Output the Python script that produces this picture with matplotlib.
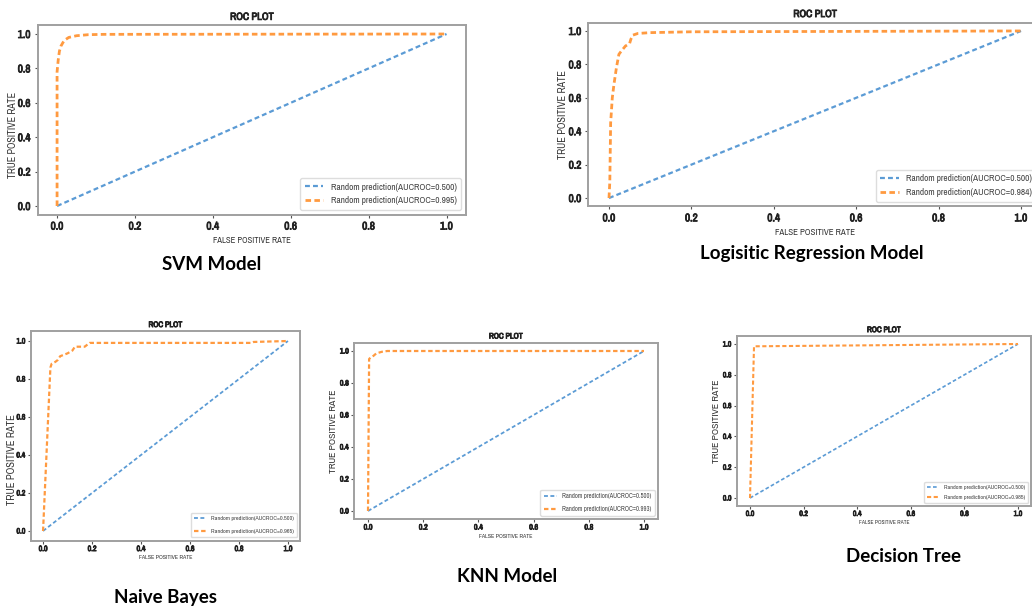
import numpy as np
import matplotlib
matplotlib.use("Agg")
import matplotlib.pyplot as plt
from matplotlib import font_manager
import matplotlib.patheffects as pe

# ROC curves (fpr, tpr)
svm_fpr = [0.0, 0.0, 0.003, 0.006, 0.01, 0.015, 0.02, 0.03, 0.05, 0.08, 0.12, 1.0]
svm_tpr = [0.0, 0.78, 0.85, 0.90, 0.93, 0.95, 0.965, 0.98, 0.99, 0.996, 0.998, 1.0]
lr_fpr = [0.0, 0.002, 0.004, 0.008, 0.012, 0.018, 0.024, 0.03, 0.04, 0.05, 0.053, 0.058, 0.07, 0.1, 0.2, 1.0]
lr_tpr = [0.0, 0.1, 0.45, 0.6, 0.68, 0.78, 0.86, 0.88, 0.91, 0.925, 0.95, 0.975, 0.985, 0.99, 0.995, 1.0]
nb_fpr = [0.0, 0.03, 0.035, 0.05, 0.06, 0.07, 0.09, 0.1, 0.12, 0.13, 0.17, 0.18, 0.19, 0.85, 0.86, 1.0]
nb_tpr = [0.0, 0.86, 0.88, 0.89, 0.90, 0.92, 0.93, 0.935, 0.95, 0.97, 0.97, 0.98, 0.99, 0.99, 0.995, 1.0]
knn_fpr = [0.0, 0.004, 0.01, 0.02, 0.03, 0.05, 0.07, 1.0]
knn_tpr = [0.0, 0.95, 0.96, 0.97, 0.985, 0.995, 1.0, 1.0]
dt_fpr = [0.0, 0.015, 1.0]
dt_tpr = [0.0, 0.985, 1.0]

rand_x = [0.0, 1.0]
rand_y = [0.0, 1.0]

models = ["SVM Model", "Logisitic Regression Model", "Naive Bayes", "KNN Model", "Decision Tree"]
aucs = ["0.995", "0.984", "0.965", "0.993", "0.985"]
curves = [(svm_fpr, svm_tpr), (lr_fpr, lr_tpr), (nb_fpr, nb_tpr),
          (knn_fpr, knn_tpr), (dt_fpr, dt_tpr)]

names = sorted({f.name for f in font_manager.fontManager.ttflist})
narrow_list = [n for n in names if "Narrow" in n or "Condensed" in n]
narrow = narrow_list[0] if narrow_list else "DejaVu Sans"
capfont = "Lato" if "Lato" in names else "DejaVu Sans"
cond = dict(family=narrow, stretch="condensed")
thick = [pe.withStroke(linewidth=0.6, foreground="#222222")]

W, H = 1032, 609
fig = plt.figure(figsize=(W / 100, H / 100), dpi=100)

# axes boxes in pixels: left, top, right, bottom ; caption centre
boxes = [(37.6, 25.4, 466, 214.6, (212, 265)),
         (588.4, 22.6, 1041.6, 206.4, (812, 253)),
         (30.8, 331.5, 300.2, 540.5, (166, 597)),
         (354.2, 343, 657.8, 519, (507, 577)),
         (736.6, 336.3, 1031.4, 505.7, (903, 557))]
# tick, title, xlabel, ylabel, ylabel y pos, legend, labelspacing, line scale
styles = [(8.0, 7.5, 6.2, 7.2, 0.42, 6.7, 0.5, 1.0),
          (8.0, 7.5, 6.4, 7.4, 0.5, 6.7, 0.5, 1.0),
          (5.6, 5.8, 4.3, 7.6, 0.385, 4.4, 1.3, 0.8),
          (5.6, 5.8, 4.3, 7.0, 0.5, 4.7, 1.1, 0.8),
          (5.4, 5.8, 4.1, 7.0, 0.5, 4.3, 0.8, 0.75)]

for i, (l, t, r, b, cap) in enumerate(boxes):
    tks, tts, xls, yls, yly, lgs, lsp, s = styles[i]
    ax = fig.add_axes([l / W, 1 - b / H, (r - l) / W, (b - t) / H])
    ax.plot(rand_x, rand_y, linestyle="--", color="#5b9bd5", lw=1.6 * s,
            dashes=(2.2, 1.4), label="Random prediction(AUCROC=0.500)")
    ax.plot(curves[i][0], curves[i][1], linestyle="--", color="#ff9a40", lw=2.0 * s,
            dashes=(2.0, 1.2), label="Random prediction(AUCROC=%s)" % aucs[i])
    ax.set_xlim(-0.05, 1.05)
    ax.set_ylim(-0.05, 1.05)
    ax.set_xticks([0, 0.2, 0.4, 0.6, 0.8, 1.0])
    ax.set_yticks([0, 0.2, 0.4, 0.6, 0.8, 1.0])
    ax.tick_params(labelsize=tks, length=2.5 * s, width=0.8, color="#555555", pad=2.5 * s)
    for lab in ax.get_xticklabels() + ax.get_yticklabels():
        lab.set_fontfamily(narrow)
        lab.set_fontstretch("condensed")
        lab.set_fontweight("bold")
        lab.set_color("#222222")
        lab.set_path_effects(thick)
    for sp in ax.spines.values():
        sp.set_color("#a0a0a0")
        sp.set_linewidth(1.4)
    ttl = ax.set_title("ROC PLOT", fontsize=tts, fontweight="bold", pad=4 * s,
                       color="#222222", **cond)
    ttl.set_path_effects(thick)
    ax.set_xlabel("FALSE POSITIVE RATE", fontsize=xls, labelpad=3 * s, color="#333333", **cond)
    ax.set_ylabel("TRUE POSITIVE RATE", fontsize=yls, color="#333333", **cond)
    ax.yaxis.set_label_coords(-0.045 if s == 1.0 else -0.052, yly)
    ax.legend(loc="lower right", prop={"family": narrow, "stretch": "condensed", "size": lgs},
              handlelength=2.0, framealpha=1, edgecolor="#dddddd", borderpad=0.5,
              labelspacing=lsp, labelcolor="#444444")
    fig.text(cap[0] / W, 1 - cap[1] / H, models[i], ha="center", va="center",
             fontsize=13.5, fontweight="bold", fontfamily=capfont)

fig.savefig("out.png", dpi=100, facecolor="white")
